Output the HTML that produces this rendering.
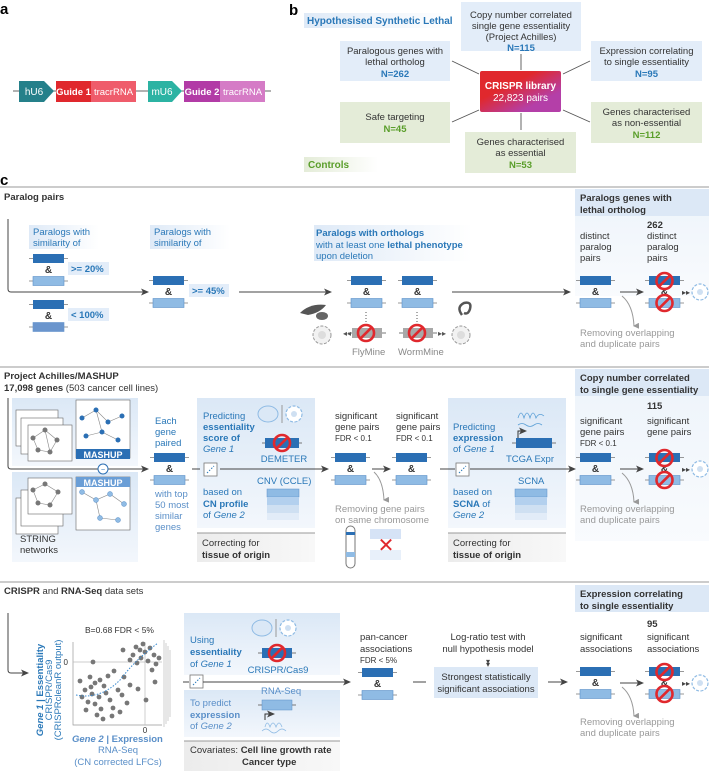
<!DOCTYPE html>
<html><head><meta charset="utf-8"><style>
html,body{margin:0;padding:0;background:#fff;}
svg{display:block;font-family:"Liberation Sans",sans-serif;}
.t{font-size:9.5px;fill:#333;}
.b{font-weight:bold;}
.bl{fill:#2a78b8;}
.gr{fill:#999;}
.gn{fill:#5a9e2a;}
.hd{font-size:9.5px;font-weight:bold;fill:#333;}
</style></head><body>
<svg width="709" height="771" viewBox="0 0 709 771" xmlns="http://www.w3.org/2000/svg">
<defs>
<linearGradient id="lb" x1="0" x2="1"><stop offset="0" stop-color="#dfeaf7"/><stop offset="1" stop-color="#eef4fb"/></linearGradient>
<linearGradient id="lbv" x1="0" y1="0" x2="0" y2="1"><stop offset="0" stop-color="#dbe8f6"/><stop offset="1" stop-color="#f3f7fc"/></linearGradient>
<linearGradient id="gy" x1="0" y1="0" x2="1" y2="0"><stop offset="0" stop-color="#ececec"/><stop offset="1" stop-color="#f8f8f8"/></linearGradient>
<linearGradient id="fade" x1="0" x2="1"><stop offset="0" stop-color="#dfeaf7"/><stop offset="1" stop-color="#ffffff"/></linearGradient>
<linearGradient id="fadeg" x1="0" x2="1"><stop offset="0" stop-color="#e4ecd8"/><stop offset="1" stop-color="#ffffff"/></linearGradient>
<linearGradient id="lib" x1="0" y1="0" x2="1" y2="1"><stop offset="0.35" stop-color="#e0282d"/><stop offset="0.75" stop-color="#b43fa8"/></linearGradient>
<marker id="ah" markerWidth="8" markerHeight="8" refX="7" refY="4" orient="auto" markerUnits="userSpaceOnUse"><path d="M0,0.5 L8,4 L0,7.5 L2,4Z" fill="#444"/></marker>
<marker id="ahg" markerWidth="6" markerHeight="6" refX="3" refY="5" orient="auto" markerUnits="userSpaceOnUse"><path d="M0,0 L3,6 L6,0Z" fill="#999"/></marker>
<g id="pair">
<line x1="-4" y1="4.5" x2="35" y2="4.5" stroke="#777" stroke-width="0.8"/>
<rect x="0" y="0" width="31" height="9" fill="#2b6fb4"/>
<text x="15.5" y="19" font-size="10" font-weight="bold" fill="#333" text-anchor="middle">&amp;</text>
<line x1="-4" y1="27" x2="35" y2="27" stroke="#777" stroke-width="0.8"/>
<rect x="0" y="22.5" width="31" height="9" fill="#8fbbe4" stroke="#5a8fc8" stroke-width="0.6"/>
</g>
<g id="nope"><circle r="8" fill="none" stroke="#e0282d" stroke-width="2.6"/><line x1="-5.6" y1="5.6" x2="5.6" y2="-5.6" stroke="#e0282d" stroke-width="2.6"/></g>
<g id="xpair"><use href="#pair"/><use href="#nope" x="15.5" y="5"/><use href="#nope" x="15.5" y="27"/></g>
<g id="cell"><circle r="8" fill="#fff" stroke="#8fbbe4" stroke-width="1.2" stroke-dasharray="3 1.5"/><circle r="3" fill="#cfe0f2"/></g>
<g id="gcell"><circle r="9" fill="#f2f2f2" stroke="#999" stroke-width="1" stroke-dasharray="3 1.5"/><circle r="4" fill="#ddd"/></g>
<g id="scat"><rect width="13" height="13" fill="#fff" stroke="#777" stroke-width="0.8"/><line x1="3" y1="10" x2="10" y2="3" stroke="#2a78b8" stroke-dasharray="1.5 1.5"/></g>
</defs>

<!-- panel a -->
<text x="0" y="14" font-size="15" font-weight="bold" fill="#000">a</text>
<line x1="13" y1="91" x2="271" y2="91" stroke="#666" stroke-width="1"/>
<path d="M19,81 H44 L54,91 L44,102 H19Z" fill="#25808a"/>
<text x="34" y="95" font-size="10" fill="#fff" text-anchor="middle">hU6</text>
<rect x="56" y="81" width="35" height="21" fill="#e0282d"/>
<text x="73.5" y="95" font-size="9.5" font-weight="bold" fill="#fff" text-anchor="middle">Guide 1</text>
<rect x="91" y="81" width="45" height="21" fill="#ef5c6b"/>
<text x="113.5" y="95" font-size="9.5" fill="#fff" text-anchor="middle">tracrRNA</text>
<path d="M148,81 H172 L182,91 L172,102 H148Z" fill="#2cb3a3"/>
<text x="162" y="95" font-size="10" fill="#fff" text-anchor="middle">mU6</text>
<rect x="184" y="81" width="36" height="21" fill="#b23ba6"/>
<text x="202" y="95" font-size="9.5" font-weight="bold" fill="#fff" text-anchor="middle">Guide 2</text>
<rect x="220" y="81" width="45" height="21" fill="#d57bc6"/>
<text x="242.5" y="95" font-size="9.5" fill="#fff" text-anchor="middle">tracrRNA</text>

<!-- panel b -->
<text x="289" y="15" font-size="15" font-weight="bold" fill="#000">b</text>
<rect x="304" y="13" width="148" height="15" fill="url(#fade)"/>
<text x="307" y="24" font-size="10" font-weight="bold" class="bl">Hypothesised Synthetic Lethal</text>
<rect x="304" y="157" width="74" height="15" fill="url(#fadeg)"/>
<text x="308" y="168" font-size="10" font-weight="bold" class="gn">Controls</text>
<g stroke="#555" stroke-width="0.9">
<line x1="452" y1="61" x2="479" y2="74"/><line x1="521" y1="54" x2="521" y2="70"/><line x1="590" y1="61" x2="563" y2="74"/>
<line x1="452" y1="122" x2="479" y2="110"/><line x1="521" y1="113" x2="521" y2="130"/><line x1="590" y1="122" x2="563" y2="110"/>
</g>
<g font-size="9.5" text-anchor="middle">
<rect x="461" y="2" width="120" height="49" fill="#e3edf9"/>
<text x="521" y="18" class="t" text-anchor="middle">Copy number correlated</text>
<text x="521" y="29" class="t" text-anchor="middle">single gene essentiality</text>
<text x="521" y="40" class="t" text-anchor="middle">(Project Achilles)</text>
<text x="521" y="51" class="t b bl" text-anchor="middle">N=115</text>
<rect x="340" y="41" width="110" height="40" fill="#e3edf9"/>
<text x="395" y="54" class="t" text-anchor="middle">Paralogous genes with</text>
<text x="395" y="65" class="t" text-anchor="middle">lethal ortholog</text>
<text x="395" y="77" class="t b bl" text-anchor="middle">N=262</text>
<rect x="591" y="41" width="111" height="40" fill="#e3edf9"/>
<text x="646.5" y="54" class="t" text-anchor="middle">Expression correlating</text>
<text x="646.5" y="65" class="t" text-anchor="middle">to single essentiality</text>
<text x="646.5" y="77" class="t b bl" text-anchor="middle">N=95</text>
<rect x="480" y="71" width="81" height="41" rx="2" fill="url(#lib)"/>
<text x="520.5" y="89" font-size="10" font-weight="bold" fill="#fff" text-anchor="middle">CRISPR library</text>
<text x="520.5" y="101" font-size="10" fill="#fff" text-anchor="middle">22,823 pairs</text>
<rect x="340" y="102" width="110" height="41" fill="#e4ecd8"/>
<text x="395" y="120" class="t" text-anchor="middle">Safe targeting</text>
<text x="395" y="132" class="t b gn" text-anchor="middle">N=45</text>
<rect x="465" y="132" width="111" height="41" fill="#e4ecd8"/>
<text x="520.5" y="145" class="t" text-anchor="middle">Genes characterised</text>
<text x="520.5" y="156" class="t" text-anchor="middle">as essential</text>
<text x="520.5" y="168" class="t b gn" text-anchor="middle">N=53</text>
<rect x="591" y="102" width="111" height="41" fill="#e4ecd8"/>
<text x="646.5" y="115" class="t" text-anchor="middle">Genes characterised</text>
<text x="646.5" y="126" class="t" text-anchor="middle">as non-essential</text>
<text x="646.5" y="138" class="t b gn" text-anchor="middle">N=112</text>
</g>

<!-- panel c -->
<text x="0" y="185" font-size="15" font-weight="bold" fill="#000">c</text>
<line x1="0" y1="187" x2="709" y2="187" stroke="#999" stroke-width="1"/>
<text x="4" y="200" class="hd">Paralog pairs</text>
<rect x="575" y="189" width="134" height="107" fill="url(#lbv)" opacity="0.5"/>
<rect x="575" y="189" width="134" height="27" fill="#dce8f6"/>
<text x="580" y="201" class="hd">Paralogs genes with</text>
<text x="580" y="213" class="hd">lethal ortholog</text>

<path d="M8,219 V289 Q8,292 11,292 H148" fill="none" stroke="#444" stroke-width="1" marker-end="url(#ah)"/>
<rect x="29" y="225" width="70" height="24" fill="url(#fade)"/>
<text x="33" y="235" class="t bl">Paralogs with</text>
<text x="33" y="246" class="t bl">similarity of</text>
<use href="#pair" x="33" y="254"/>
<rect x="68" y="262" width="41" height="13" fill="#e3edf9"/>
<text x="71" y="272" class="t b bl">&gt;= 20%</text>
<use href="#pair" x="33" y="300"/>
<rect x="33" y="322.5" width="31" height="9" fill="#6a95cd"/>
<rect x="68" y="308" width="41" height="13" fill="#e3edf9"/>
<text x="71" y="318" class="t b bl">&lt; 100%</text>
<rect x="150" y="225" width="80" height="24" fill="url(#fade)"/>
<text x="154" y="235" class="t bl">Paralogs with</text>
<text x="154" y="246" class="t bl">similarity of</text>
<use href="#pair" x="153" y="276"/>
<rect x="189" y="284" width="40" height="13" fill="#e3edf9"/>
<text x="192" y="294" class="t b bl">&gt;= 45%</text>
<line x1="239" y1="292" x2="331" y2="292" stroke="#444" marker-end="url(#ah)"/>
<rect x="314" y="225" width="158" height="36" fill="url(#fade)"/>
<text x="316" y="236" class="t b bl">Paralogs with orthologs</text>
<text x="316" y="248" class="t bl">with at least one <tspan font-weight="bold">lethal phenotype</tspan></text>
<text x="316" y="259" class="t bl">upon deletion</text>
<use href="#pair" x="351" y="276"/>
<use href="#pair" x="402" y="276"/>
<line x1="366" y1="312" x2="366" y2="325" stroke="#555" stroke-dasharray="1 2"/>
<line x1="417" y1="312" x2="417" y2="325" stroke="#555" stroke-dasharray="1 2"/>
<line x1="348" y1="333" x2="386" y2="333" stroke="#777"/><rect x="352" y="328" width="30" height="10" fill="#a8a8a8"/>
<line x1="399" y1="333" x2="437" y2="333" stroke="#777"/><rect x="403" y="328" width="30" height="10" fill="#a8a8a8"/>
<use href="#nope" x="366" y="333"/><use href="#nope" x="417" y="333"/>
<text x="343" y="336" font-size="8" fill="#555">◂◂</text>
<text x="438" y="336" font-size="8" fill="#555">▸▸</text>
<use href="#gcell" x="322" y="335"/><use href="#gcell" x="461" y="335"/>
<path d="M300,313 q10,-10 26,-8 q-6,8 -18,10z" fill="#555"/><ellipse cx="322" cy="316" rx="6" ry="4" fill="#666"/>
<path d="M462,315 q-6,-8 2,-12 q8,-2 6,6 q-2,6 -6,4" fill="none" stroke="#555" stroke-width="2.5"/>
<text x="352" y="355" font-size="9.5" fill="#888">FlyMine</text>
<text x="398" y="355" font-size="9.5" fill="#888">WormMine</text>
<line x1="452" y1="292" x2="570" y2="292" stroke="#444" marker-end="url(#ah)"/>
<text x="647" y="228" class="hd">262</text>
<text x="580" y="239" class="t">distinct</text><text x="580" y="250" class="t">paralog</text><text x="580" y="261" class="t">pairs</text>
<text x="647" y="239" class="t">distinct</text><text x="647" y="250" class="t">paralog</text><text x="647" y="261" class="t">pairs</text>
<use href="#pair" x="580" y="276"/>
<line x1="620" y1="292" x2="643" y2="292" stroke="#444" marker-end="url(#ah)"/>
<use href="#xpair" x="649" y="276"/>
<text x="682" y="295" font-size="8" fill="#444">▸▸</text>
<use href="#cell" x="700" y="292"/>
<path d="M622,296 Q633,305 634,326" fill="none" stroke="#999" marker-end="url(#ahg)"/>
<text x="580" y="336" font-size="9.5" fill="#999">Removing overlapping</text>
<text x="580" y="347" font-size="9.5" fill="#999">and duplicate pairs</text>

<!-- section 2 -->
<line x1="0" y1="367" x2="709" y2="367" stroke="#999"/>
<text x="4" y="379" class="hd">Project Achilles/MASHUP</text>
<text x="4" y="391" class="t"><tspan font-weight="bold">17,098 genes</tspan> (503 cancer cell lines)</text>
<rect x="575" y="369" width="134" height="172" fill="url(#lbv)" opacity="0.5"/>
<rect x="575" y="369" width="134" height="27" fill="#dce8f6"/>
<text x="580" y="381" class="hd">Copy number correlated</text>
<text x="580" y="393" class="hd">to single gene essentiality</text>
<rect x="12" y="398" width="126" height="68" fill="url(#lbv)"/>
<rect x="12" y="472" width="126" height="90" fill="url(#lbv)"/>
<g fill="#fff" stroke="#666" stroke-width="0.6">
<rect x="16" y="410" width="42" height="36"/><rect x="21" y="418" width="42" height="36"/><rect x="28" y="425" width="44" height="36"/>
<rect x="16" y="498" width="42" height="36"/><rect x="21" y="490" width="42" height="36"/><rect x="28" y="478" width="44" height="36"/>
<rect x="76" y="400" width="54" height="58"/><rect x="76" y="477" width="54" height="53"/>
</g>
<g stroke="#888" stroke-width="0.6" fill="none"><path d="M33,438 L45,430 L57,440 L50,452 L38,450Z M45,430 L50,452"/><path d="M33,490 L45,484 L58,492 L50,505 L38,503Z"/><path d="M82,418 L96,410 L108,422 L122,416 M96,410 L102,432 L118,440 M86,436 L102,432"/><path d="M82,492 L96,500 L110,494 L124,504 M96,500 L100,518 L118,520"/></g>
<g fill="#777"><circle cx="33" cy="438" r="2.5"/><circle cx="45" cy="430" r="2.5"/><circle cx="57" cy="440" r="2.5"/><circle cx="50" cy="452" r="2.5"/><circle cx="38" cy="450" r="2.5"/><circle cx="33" cy="490" r="2.5"/><circle cx="45" cy="484" r="2.5"/><circle cx="58" cy="492" r="2.5"/><circle cx="50" cy="505" r="2.5"/><circle cx="38" cy="503" r="2.5"/></g>
<g fill="#2b6fb4"><circle cx="82" cy="418" r="2.5"/><circle cx="96" cy="410" r="2.5"/><circle cx="108" cy="422" r="2.5"/><circle cx="122" cy="416" r="2.5"/><circle cx="102" cy="432" r="2.5"/><circle cx="118" cy="440" r="2.5"/><circle cx="86" cy="436" r="2.5"/></g>
<g fill="#8fbbe4" stroke="#5a8fc8" stroke-width="0.5"><circle cx="82" cy="492" r="2.5"/><circle cx="96" cy="500" r="2.5"/><circle cx="110" cy="494" r="2.5"/><circle cx="124" cy="504" r="2.5"/><circle cx="100" cy="518" r="2.5"/><circle cx="118" cy="520" r="2.5"/></g>
<rect x="76" y="449" width="54" height="10" fill="#2b6fb4"/><text x="103" y="458" font-size="9" font-weight="bold" fill="#fff" text-anchor="middle">MASHUP</text>
<rect x="76" y="477" width="54" height="10" fill="#6a9ed6"/><text x="103" y="486" font-size="9" font-weight="bold" fill="#fff" text-anchor="middle">MASHUP</text>
<text x="20" y="542" class="t">STRING</text><text x="20" y="553" class="t">networks</text>
<path d="M8,398 V466 Q8,469 11,469 H148" fill="none" stroke="#444" marker-end="url(#ah)"/>
<circle cx="103" cy="469" r="5" fill="#fff" stroke="#2b6fb4"/><text x="103" y="472" font-size="7" fill="#2b6fb4" text-anchor="middle">~</text>
<text x="155" y="424" class="t bl">Each</text><text x="155" y="435" class="t bl">gene</text><text x="155" y="446" class="t bl">paired</text>
<use href="#pair" x="154" y="453"/>
<text x="155" y="497" font-size="9.5" fill="#5a8fc8">with top</text><text x="155" y="508" font-size="9.5" fill="#5a8fc8">50 most</text><text x="155" y="519" font-size="9.5" fill="#5a8fc8">similar</text><text x="155" y="530" font-size="9.5" fill="#5a8fc8">genes</text>
<rect x="197" y="398" width="118" height="130" fill="url(#lbv)"/>
<rect x="197" y="533" width="118" height="29" fill="url(#gy)"/><line x1="197" y1="533" x2="315" y2="533" stroke="#999"/>
<text x="202" y="546" class="t">Correcting for</text><text x="202" y="558" class="t b">tissue of origin</text>
<text x="203" y="419" class="t bl">Predicting</text><text x="203" y="430" class="t b bl">essentiality</text><text x="203" y="441" class="t b bl">score of</text><text x="203" y="452" class="t bl" font-style="italic">Gene 1</text>
<ellipse cx="268" cy="414" rx="10" ry="8" fill="#dbe8f6" stroke="#8fbbe4"/><line x1="282" y1="405" x2="282" y2="423" stroke="#999"/><use href="#cell" x="294" y="414"/>
<line x1="262" y1="443" x2="302" y2="443" stroke="#777"/><rect x="265" y="438" width="34" height="10" fill="#2b6fb4"/><use href="#nope" x="282" y="443"/>
<text x="284" y="462" class="t bl" text-anchor="middle">DEMETER</text>
<line x1="220" y1="469" x2="328" y2="469" stroke="#444" marker-end="url(#ah)"/>
<line x1="192" y1="469" x2="200" y2="469" stroke="#444"/>
<use href="#scat" x="204" y="463"/>
<text x="257" y="484" class="t bl">CNV (CCLE)</text>
<rect x="267" y="489" width="32" height="8" fill="#8fbbe4" stroke="#5a8fc8" stroke-width="0.5"/><rect x="267" y="497" width="32" height="8" fill="#b3d0ee"/><rect x="267" y="505" width="32" height="8" fill="#cfe0f2"/><rect x="267" y="513" width="32" height="7" fill="#e2ecf8"/>
<text x="203" y="495" class="t bl">based on</text><text x="203" y="507" class="t b bl">CN profile</text><text x="203" y="518" class="t bl">of <tspan font-style="italic">Gene 2</tspan></text>
<text x="335" y="419" class="t">significant</text><text x="335" y="430" class="t">gene pairs</text><text x="335" y="441" font-size="8" fill="#333">FDR &lt; 0.1</text>
<use href="#pair" x="335" y="453"/>
<line x1="372" y1="469" x2="390" y2="469" stroke="#444" marker-end="url(#ah)"/>
<text x="396" y="419" class="t">significant</text><text x="396" y="430" class="t">gene pairs</text><text x="396" y="441" font-size="8" fill="#333">FDR &lt; 0.1</text>
<use href="#pair" x="396" y="453"/>
<path d="M374,472 Q383,480 384,500" fill="none" stroke="#999" marker-end="url(#ahg)"/>
<text x="335" y="512" font-size="9.5" fill="#999">Removing gene pairs</text><text x="335" y="523" font-size="9.5" fill="#999">on same chromosome</text>
<rect x="346" y="526" width="9" height="42" rx="4.5" fill="#fff" stroke="#777"/><rect x="346" y="532" width="9" height="3" fill="#2b6fb4"/><rect x="346" y="552" width="9" height="5" fill="#8fbbe4"/>
<rect x="370" y="529" width="31" height="10" fill="#d6e3f6"/><rect x="370" y="550" width="31" height="10" fill="#e8f0fa"/>
<text x="386" y="552" font-size="20" fill="#e0282d" text-anchor="middle">✕</text>
<rect x="448" y="398" width="118" height="130" fill="url(#lbv)"/>
<rect x="448" y="533" width="118" height="29" fill="url(#gy)"/><line x1="448" y1="533" x2="566" y2="533" stroke="#999"/>
<text x="453" y="546" class="t">Correcting for</text><text x="453" y="558" class="t b">tissue of origin</text>
<text x="453" y="430" class="t bl">Predicting</text><text x="453" y="441" class="t b bl">expression</text><text x="453" y="452" class="t bl">of <tspan font-style="italic">Gene 1</tspan></text>
<path d="M518,418 q3,-10 6,0 q3,-10 6,0 q3,-10 6,0 q3,-6 8,-2" fill="none" stroke="#5a9fd6" stroke-width="0.8"/>
<path d="M518,425 q4,-3 8,0 q4,3 8,0 q4,-3 8,0" fill="none" stroke="#5a9fd6" stroke-width="0.8"/>
<path d="M518,440 V431 H526" fill="none" stroke="#333" marker-end="url(#ah)"/>
<line x1="512" y1="443" x2="556" y2="443" stroke="#777"/><rect x="516" y="438" width="36" height="10" fill="#2b6fb4"/>
<text x="530" y="462" class="t bl" text-anchor="middle">TCGA Expr</text>
<line x1="440" y1="469" x2="455" y2="469" stroke="#444"/>
<use href="#scat" x="456" y="463"/>
<line x1="470" y1="469" x2="575" y2="469" stroke="#444" marker-end="url(#ah)"/>
<text x="518" y="484" class="t bl">SCNA</text>
<rect x="515" y="489" width="32" height="8" fill="#8fbbe4" stroke="#5a8fc8" stroke-width="0.5"/><rect x="515" y="497" width="32" height="8" fill="#b3d0ee"/><rect x="515" y="505" width="32" height="8" fill="#cfe0f2"/><rect x="515" y="513" width="32" height="7" fill="#e2ecf8"/>
<text x="453" y="495" class="t bl">based on</text><text x="453" y="507" class="t b bl">SCNA <tspan font-weight="normal">of</tspan></text><text x="453" y="518" class="t bl" font-style="italic">Gene 2</text>
<text x="647" y="409" class="hd">115</text>
<text x="580" y="424" class="t">significant</text><text x="580" y="435" class="t">gene pairs</text><text x="580" y="446" font-size="8" fill="#333">FDR &lt; 0.1</text>
<text x="647" y="424" class="t">significant</text><text x="647" y="435" class="t">gene pairs</text>
<use href="#pair" x="580" y="453"/>
<line x1="620" y1="469" x2="643" y2="469" stroke="#444" marker-end="url(#ah)"/>
<use href="#xpair" x="649" y="453"/>
<text x="682" y="472" font-size="8" fill="#444">▸▸</text>
<use href="#cell" x="700" y="469"/>
<path d="M622,473 Q633,482 634,502" fill="none" stroke="#999" marker-end="url(#ahg)"/>
<text x="580" y="512" font-size="9.5" fill="#999">Removing overlapping</text><text x="580" y="523" font-size="9.5" fill="#999">and duplicate pairs</text>

<!-- section 3 -->
<line x1="0" y1="582" x2="709" y2="582" stroke="#999"/>
<text x="4" y="594" class="t"><tspan font-weight="bold">CRISPR</tspan>  and  <tspan font-weight="bold">RNA-Seq</tspan> data sets</text>
<rect x="575" y="585" width="134" height="27" fill="#dce8f6"/>
<text x="580" y="597" class="hd">Expression correlating</text>
<text x="580" y="609" class="hd">to single essentiality</text>
<path d="M8,613 V670 Q8,673 11,673 H28" fill="none" stroke="#444" marker-end="url(#ah)"/>
<g transform="translate(43,690) rotate(-90)"><text x="0" y="0" font-size="9.5" font-weight="bold" fill="#2a78b8" text-anchor="middle"><tspan font-style="italic">Gene 1</tspan> | Essentiality</text></g>
<g transform="translate(52,690) rotate(-90)"><text x="0" y="0" class="t bl" text-anchor="middle">CRISPR/Cas9</text></g>
<g transform="translate(61,690) rotate(-90)"><text x="0" y="0" class="t bl" text-anchor="middle">(CRISPRcleanR output)</text></g>
<text x="85" y="633" font-size="8.5" fill="#333">B=0.68    FDR &lt; 5%</text>
<path d="M73,642 V725 H162" fill="none" stroke="#999" stroke-width="0.7"/>
<line x1="73" y1="662" x2="162" y2="662" stroke="#bbb" stroke-width="0.7"/>
<line x1="145" y1="642" x2="145" y2="725" stroke="#bbb" stroke-width="0.7"/>
<text x="68" y="665" font-size="8" fill="#333" text-anchor="end">0</text>
<text x="145" y="733" font-size="8" fill="#333" text-anchor="middle">0</text>
<g stroke="#bbb" stroke-width="0.7"><line x1="164" y1="640" x2="164" y2="727"/><line x1="166" y1="643" x2="166" y2="724"/><line x1="168" y1="646" x2="168" y2="721"/><line x1="170" y1="650" x2="170" y2="717"/></g>
<g fill="#777">
<circle cx="136" cy="647" r="2.4"/><circle cx="140" cy="650" r="2.4"/><circle cx="145" cy="652" r="2.4"/><circle cx="150" cy="648" r="2.4"/><circle cx="154" cy="655" r="2.4"/><circle cx="133" cy="655" r="2.4"/><circle cx="141" cy="658" r="2.4"/><circle cx="148" cy="661" r="2.4"/><circle cx="156" cy="664" r="2.4"/><circle cx="152" cy="670" r="2.4"/><circle cx="137" cy="663" r="2.4"/><circle cx="130" cy="660" r="2.4"/><circle cx="143" cy="644" r="2.4"/><circle cx="123" cy="650" r="2.4"/><circle cx="159" cy="658" r="2.4"/>
<circle cx="93" cy="662" r="2.4"/><circle cx="80" cy="681" r="2.4"/><circle cx="90" cy="677" r="2.4"/><circle cx="95" cy="683" r="2.4"/><circle cx="100" cy="680" r="2.4"/><circle cx="104" cy="686" r="2.4"/><circle cx="85" cy="690" r="2.4"/><circle cx="92" cy="694" r="2.4"/><circle cx="99" cy="697" r="2.4"/><circle cx="106" cy="693" r="2.4"/><circle cx="110" cy="700" r="2.4"/><circle cx="95" cy="704" r="2.4"/><circle cx="101" cy="709" r="2.4"/><circle cx="88" cy="702" r="2.4"/><circle cx="97" cy="715" r="2.4"/><circle cx="103" cy="719" r="2.4"/><circle cx="113" cy="708" r="2.4"/><circle cx="118" cy="690" r="2.4"/><circle cx="124" cy="677" r="2.4"/><circle cx="130" cy="685" r="2.4"/><circle cx="127" cy="703" r="2.4"/><circle cx="114" cy="671" r="2.4"/><circle cx="120" cy="712" r="2.4"/><circle cx="86" cy="710" r="2.4"/><circle cx="108" cy="676" r="2.4"/><circle cx="138" cy="689" r="2.4"/><circle cx="146" cy="700" r="2.4"/><circle cx="155" cy="682" r="2.4"/><circle cx="82" cy="697" r="2.4"/><circle cx="112" cy="716" r="2.4"/><circle cx="122" cy="695" r="2.4"/><circle cx="91" cy="687" r="2.4"/>
</g>
<path d="M76,695 Q100,700 120,680 Q135,660 158,643" fill="none" stroke="#3a8ad0" stroke-width="1" stroke-dasharray="1.5 1.5"/>
<text x="72" y="742" font-size="9.5" font-weight="bold" fill="#5a8fc8"><tspan font-style="italic">Gene 2</tspan> | Expression</text>
<text x="118" y="753" font-size="9.5" fill="#5a8fc8" text-anchor="middle">RNA-Seq</text>
<text x="118" y="765" font-size="9.5" fill="#5a8fc8" text-anchor="middle">(CN corrected LFCs)</text>
<rect x="184" y="613" width="156" height="62" fill="url(#lbv)"/>
<rect x="184" y="690" width="156" height="47" fill="url(#lbv)"/>
<rect x="184" y="741" width="156" height="30" fill="url(#gy)"/><line x1="184" y1="741" x2="340" y2="741" stroke="#999"/>
<text x="190" y="753" class="t">Covariates: <tspan font-weight="bold">Cell line growth rate</tspan></text>
<text x="242" y="765" class="t b">Cancer type</text>
<text x="190" y="643" class="t bl">Using</text><text x="190" y="655" class="t b bl">essentiality</text><text x="190" y="667" class="t bl">of <tspan font-style="italic">Gene 1</tspan></text>
<ellipse cx="262" cy="628" rx="10" ry="8" fill="#dbe8f6" stroke="#8fbbe4"/><line x1="276" y1="619" x2="276" y2="637" stroke="#999"/><use href="#cell" x="288" y="628"/>
<line x1="258" y1="653" x2="296" y2="653" stroke="#777"/><rect x="262" y="648" width="30" height="10" fill="#2b6fb4"/><use href="#nope" x="277" y="653"/>
<text x="278" y="673" class="t bl" text-anchor="middle">CRISPR/Cas9</text>
<line x1="183" y1="682" x2="189" y2="682" stroke="#444"/>
<use href="#scat" x="190" y="675"/>
<line x1="203" y1="682" x2="350" y2="682" stroke="#444" marker-end="url(#ah)"/>
<text x="261" y="694" font-size="9.5" fill="#5a8fc8">RNA-Seq</text>
<line x1="258" y1="705" x2="296" y2="705" stroke="#777"/><rect x="262" y="700" width="30" height="10" fill="#8fbbe4" stroke="#5a8fc8" stroke-width="0.5"/>
<path d="M265,720 V714 H274" fill="none" stroke="#333" marker-end="url(#ah)"/>
<path d="M262,731 q4,-4 8,0 q4,4 8,0 q4,-4 8,0 M265,727 q2,-8 5,0 q3,-8 6,0 q3,-8 6,0" fill="none" stroke="#8fbbe4" stroke-width="0.8"/>
<text x="190" y="706" font-size="9.5" fill="#5a8fc8">To predict</text><text x="190" y="718" font-size="9.5" font-weight="bold" fill="#5a8fc8">expression</text><text x="190" y="729" font-size="9.5" fill="#5a8fc8">of <tspan font-style="italic">Gene 2</tspan></text>
<text x="360" y="640" class="t">pan-cancer</text><text x="360" y="652" class="t">associations</text><text x="360" y="663" font-size="8" fill="#333">FDR &lt; 5%</text>
<use href="#pair" x="362" y="668"/>
<line x1="413" y1="682" x2="426" y2="682" stroke="#444"/>
<text x="488" y="640" class="t" text-anchor="middle">Log-ratio test with</text>
<text x="488" y="652" class="t" text-anchor="middle">null hypothesis model</text>
<text x="488" y="664" font-size="8" fill="#444" text-anchor="middle">▾</text><text x="488" y="667" font-size="8" fill="#444" text-anchor="middle">▾</text>
<rect x="434" y="667" width="104" height="31" fill="#dce8f6"/>
<text x="486" y="680" class="t" text-anchor="middle">Strongest statistically</text>
<text x="486" y="692" class="t" text-anchor="middle">significant associations</text>
<line x1="548" y1="682" x2="567" y2="682" stroke="#444" marker-end="url(#ah)"/>
<text x="647" y="627" class="hd">95</text>
<text x="580" y="640" class="t">significant</text><text x="580" y="652" class="t">associations</text>
<text x="647" y="640" class="t">significant</text><text x="647" y="652" class="t">associations</text>
<use href="#pair" x="580" y="667"/>
<line x1="620" y1="683" x2="643" y2="683" stroke="#444" marker-end="url(#ah)"/>
<use href="#xpair" x="649" y="667"/>
<text x="682" y="686" font-size="8" fill="#444">▸▸</text>
<use href="#cell" x="700" y="683"/>
<path d="M622,687 Q633,696 634,716" fill="none" stroke="#999" marker-end="url(#ahg)"/>
<text x="580" y="725" font-size="9.5" fill="#999">Removing overlapping</text><text x="580" y="736" font-size="9.5" fill="#999">and duplicate pairs</text>
</svg>
</body></html>
